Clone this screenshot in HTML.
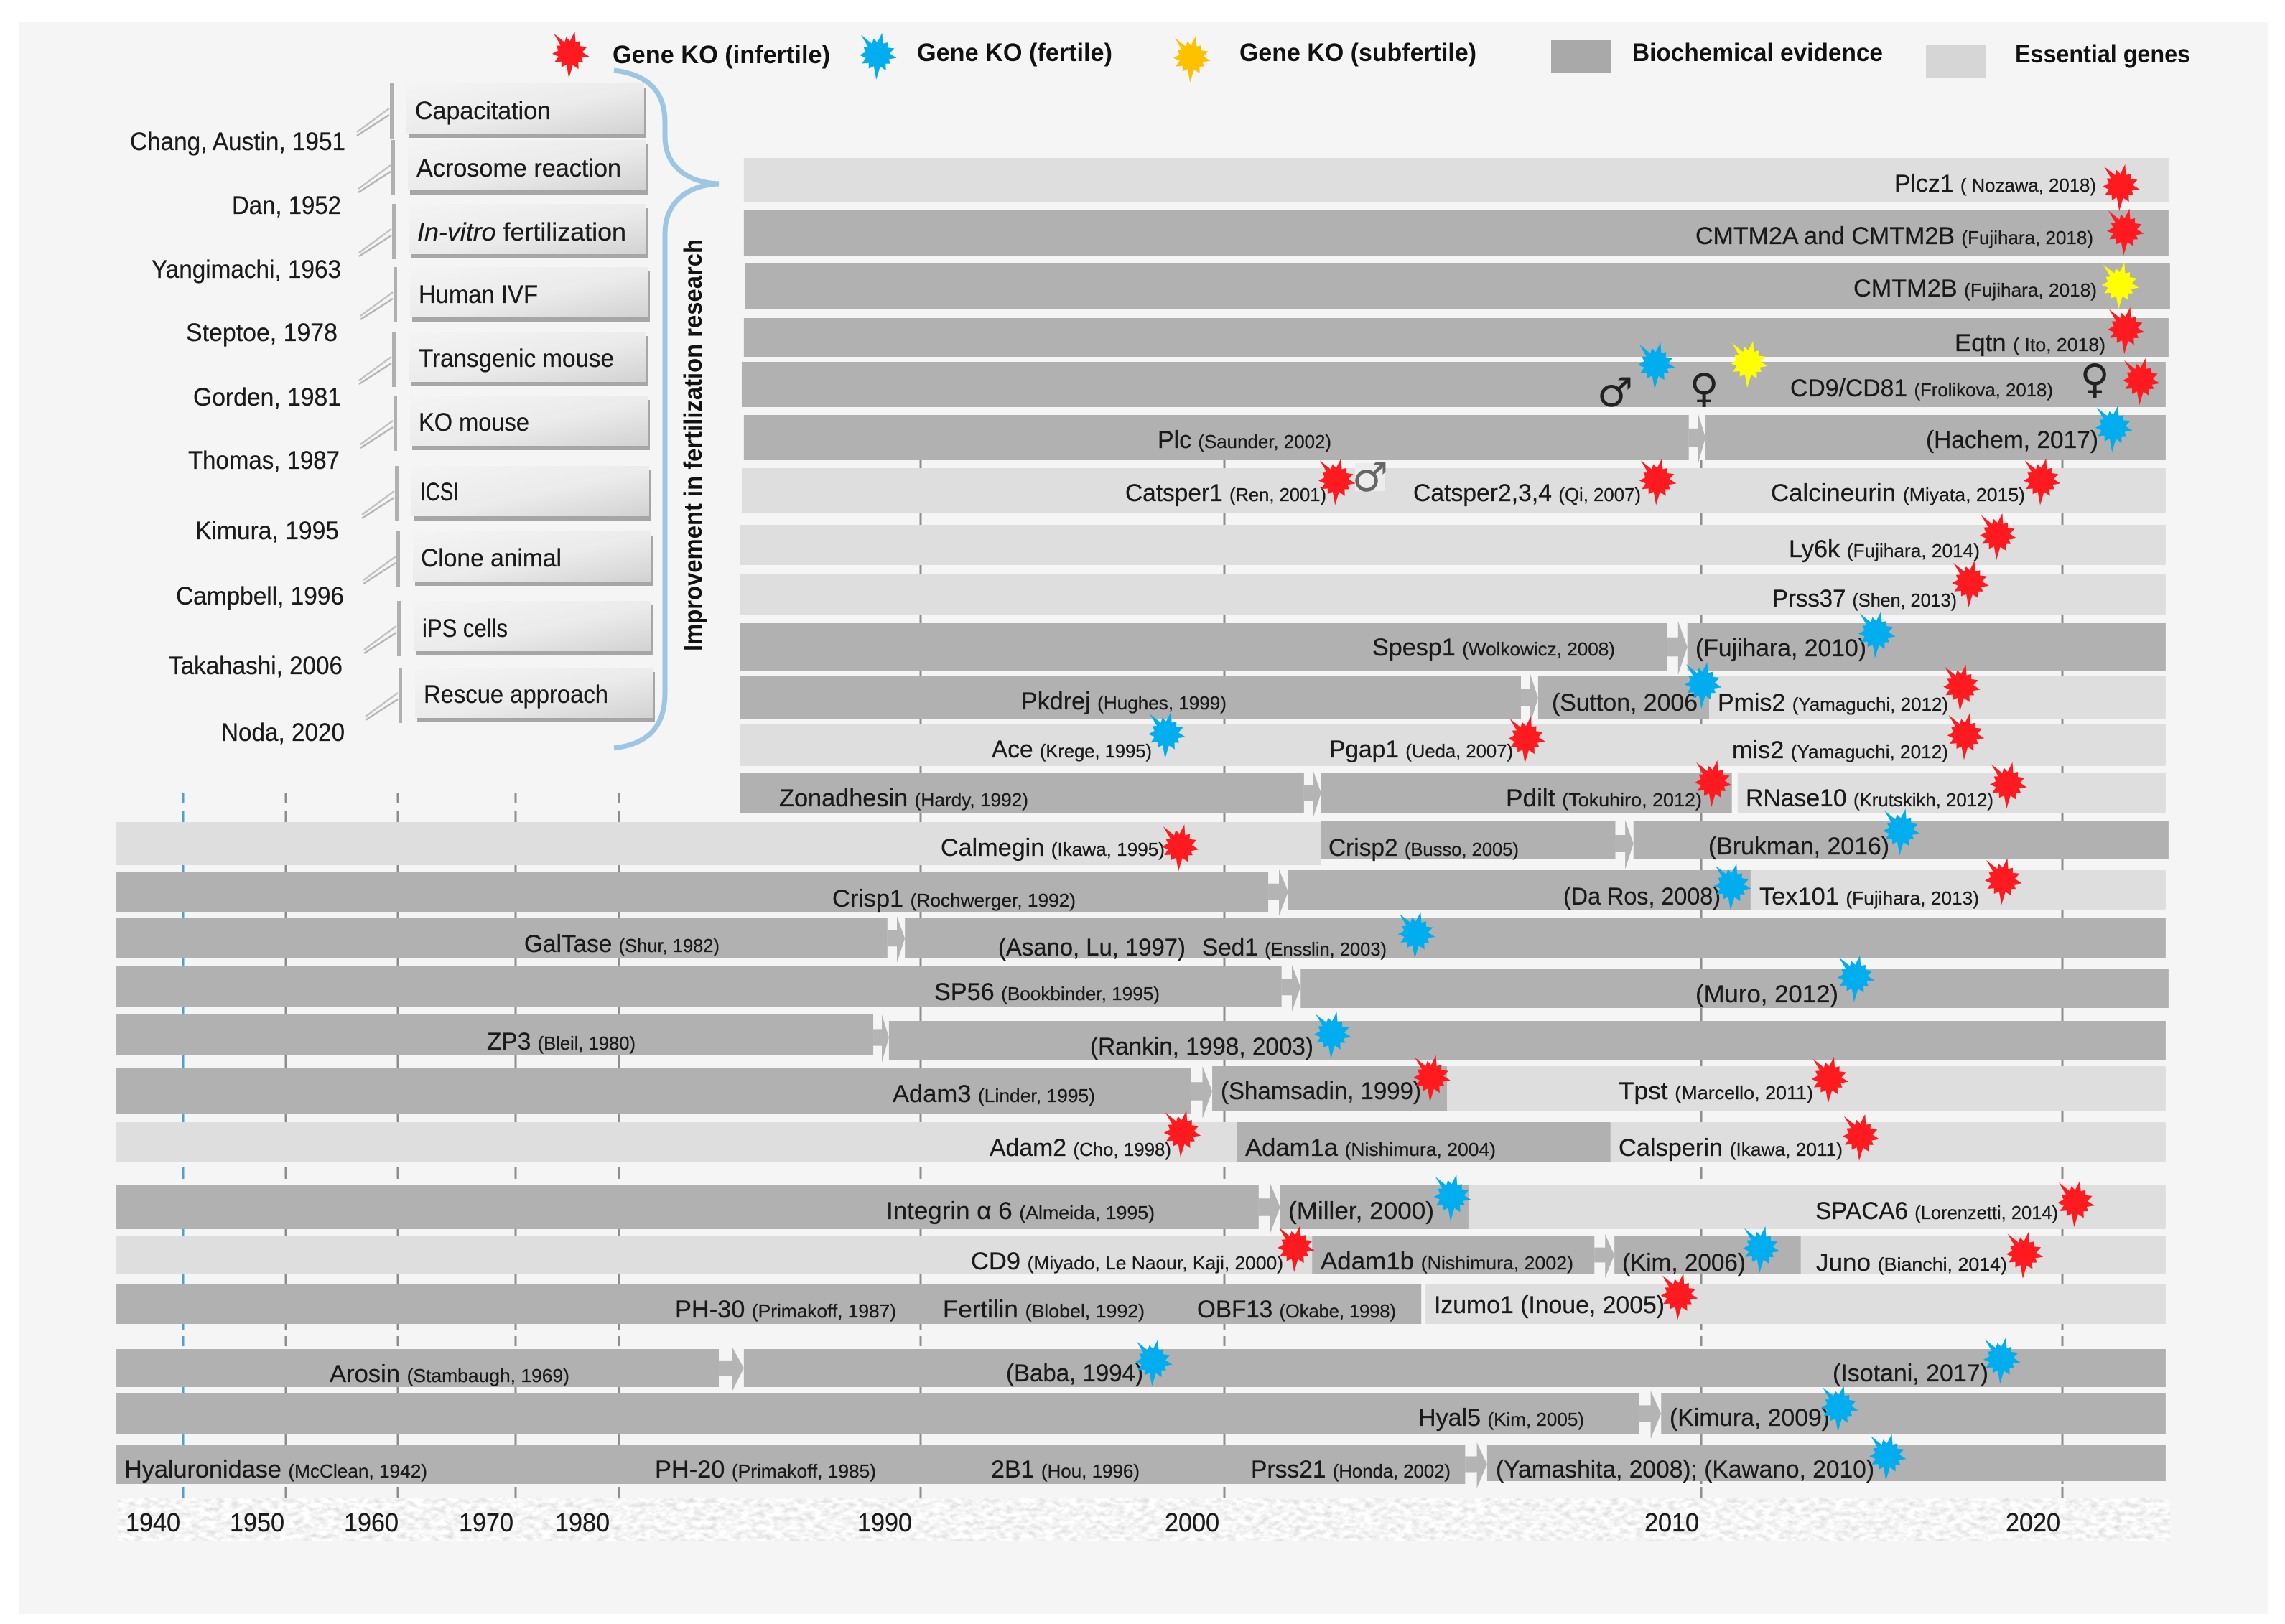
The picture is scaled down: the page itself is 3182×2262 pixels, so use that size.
<!DOCTYPE html>
<html lang="en">
<head>
<meta charset="utf-8">
<title>Timeline of fertilization research and gene evidence</title>
<style>
html,body{margin:0;padding:0;background:#fff;}
svg{display:block;}
text{font-family:"Liberation Sans",Arial,sans-serif;fill:#1a1a1a;stroke:#1a1a1a;stroke-width:.3px;}
.g{font-size:34px;}
.c{font-size:26px;}
.b{font-size:35px;font-weight:bold;fill:#111;stroke:none;}
.m{font-size:35px;}
.t{font-size:36px;}
.s{font-family:"DejaVu Sans","Liberation Sans",sans-serif;font-size:56px;text-anchor:middle;fill:#222;stroke:none;}
</style>
</head>
<body>
<svg xmlns="http://www.w3.org/2000/svg" width="3182" height="2262" viewBox="0 0 3182 2262">
<defs>
<linearGradient id="box-fill" x1="0" y1="0" x2="1" y2="1">
<stop offset="0" stop-color="#f4f4f4"/><stop offset="0.55" stop-color="#ebebeb"/><stop offset="1" stop-color="#d2d2d2"/>
</linearGradient>
<filter id="paper-noise" x="0" y="0" width="100%" height="100%">
<feTurbulence type="fractalNoise" baseFrequency="0.09 0.16" numOctaves="3" seed="7"/>
<feColorMatrix type="matrix" values="0.55 0 0 0 0.64  0.55 0 0 0 0.64  0.55 0 0 0 0.64  0 0 0 0 1"/>
</filter>
<g id="milestone-shape">
<rect x="3" y="6" width="331" height="70" fill="#a6a6a6"/>
<rect x="0" y="0" width="331" height="70" fill="url(#box-fill)"/>
<rect x="-23" y="0" width="5" height="77" fill="#b0b0b0"/>
<line x1="-69" y1="68" x2="-24" y2="35" stroke="#c2c2c2" stroke-width="2.5"/>
<line x1="-69" y1="73" x2="-24" y2="44" stroke="#b5b5b5" stroke-width="2.5"/>
</g>
</defs>

<rect x="26" y="30" width="3132" height="2218" fill="#f5f5f5"/>

<!-- Legend -->
<g>
<text class="b" x="853" y="88" textLength="303" lengthAdjust="spacingAndGlyphs">Gene KO (infertile)</text>
<text class="b" x="1277" y="85" textLength="272" lengthAdjust="spacingAndGlyphs">Gene KO (fertile)</text>
<text class="b" x="1726" y="85" textLength="330" lengthAdjust="spacingAndGlyphs">Gene KO (subfertile)</text>
<rect x="2160" y="56" width="83" height="46" fill="#a9a9a9"/>
<text class="b" x="2273" y="85" textLength="349" lengthAdjust="spacingAndGlyphs">Biochemical evidence</text>
<rect x="2682" y="63" width="83" height="45" fill="#d6d6d6"/>
<text class="b" x="2806" y="87" textLength="244" lengthAdjust="spacingAndGlyphs">Essential genes</text>
</g>

<!-- Milestones panel -->
<g>
<use href="#milestone-shape" x="566" y="116"/>
<use href="#milestone-shape" x="568" y="195"/>
<use href="#milestone-shape" x="569" y="284"/>
<use href="#milestone-shape" x="571" y="372"/>
<use href="#milestone-shape" x="569" y="462"/>
<use href="#milestone-shape" x="571" y="551"/>
<use href="#milestone-shape" x="573" y="649"/>
<use href="#milestone-shape" x="575" y="740"/>
<use href="#milestone-shape" x="576" y="837"/>
<use href="#milestone-shape" x="578" y="930"/>

<text class="m" x="578" y="166" textLength="189" lengthAdjust="spacingAndGlyphs">Capacitation</text>
<text class="m" x="580" y="246" textLength="285" lengthAdjust="spacingAndGlyphs">Acrosome reaction</text>
<text class="m" x="581" y="335" textLength="291" lengthAdjust="spacingAndGlyphs"><tspan font-style="italic">In-vitro</tspan> fertilization</text>
<text class="m" x="583" y="422" textLength="166" lengthAdjust="spacingAndGlyphs">Human IVF</text>
<text class="m" x="583" y="511" textLength="272" lengthAdjust="spacingAndGlyphs">Transgenic mouse</text>
<text class="m" x="583" y="600" textLength="154" lengthAdjust="spacingAndGlyphs">KO mouse</text>
<text class="m" x="585" y="697" textLength="54" lengthAdjust="spacingAndGlyphs">ICSI</text>
<text class="m" x="586" y="789" textLength="196" lengthAdjust="spacingAndGlyphs">Clone animal</text>
<text class="m" x="588" y="887" textLength="119" lengthAdjust="spacingAndGlyphs">iPS cells</text>
<text class="m" x="590" y="979" textLength="257" lengthAdjust="spacingAndGlyphs">Rescue approach</text>

<text class="m" x="181" y="209" textLength="300" lengthAdjust="spacingAndGlyphs">Chang, Austin, 1951</text>
<text class="m" x="323" y="298" textLength="152" lengthAdjust="spacingAndGlyphs">Dan, 1952</text>
<text class="m" x="211" y="387" textLength="264" lengthAdjust="spacingAndGlyphs">Yangimachi, 1963</text>
<text class="m" x="259" y="475" textLength="211" lengthAdjust="spacingAndGlyphs">Steptoe, 1978</text>
<text class="m" x="269" y="565" textLength="206" lengthAdjust="spacingAndGlyphs">Gorden, 1981</text>
<text class="m" x="262" y="653" textLength="211" lengthAdjust="spacingAndGlyphs">Thomas, 1987</text>
<text class="m" x="272" y="751" textLength="200" lengthAdjust="spacingAndGlyphs">Kimura, 1995</text>
<text class="m" x="245" y="842" textLength="234" lengthAdjust="spacingAndGlyphs">Campbell, 1996</text>
<text class="m" x="235" y="939" textLength="242" lengthAdjust="spacingAndGlyphs">Takahashi, 2006</text>
<text class="m" x="308" y="1032" textLength="172" lengthAdjust="spacingAndGlyphs">Noda, 2020</text>

<path d="M855 98 C905 104 926 130 926 170 L926 190 C926 230 955 254 1001 256 C955 258 926 284 926 325 L926 965 C926 1010 905 1036 855 1042" fill="none" stroke="#9cc6e4" stroke-width="7"/>
<text class="b" transform="translate(977 907) rotate(-90)" textLength="574" lengthAdjust="spacingAndGlyphs">Improvement in fertilization research</text>
</g>

<g id="ticks-layer"></g>
<g id="bars-layer"></g>

<rect x="165" y="2086" width="2857" height="60" filter="url(#paper-noise)"/>
<g>
<text class="t" x="175" y="2133" textLength="76" lengthAdjust="spacingAndGlyphs">1940</text>
<text class="t" x="320" y="2133" textLength="76" lengthAdjust="spacingAndGlyphs">1950</text>
<text class="t" x="479" y="2133" textLength="76" lengthAdjust="spacingAndGlyphs">1960</text>
<text class="t" x="639" y="2133" textLength="76" lengthAdjust="spacingAndGlyphs">1970</text>
<text class="t" x="773" y="2133" textLength="76" lengthAdjust="spacingAndGlyphs">1980</text>
<text class="t" x="1194" y="2133" textLength="76" lengthAdjust="spacingAndGlyphs">1990</text>
<text class="t" x="1622" y="2133" textLength="76" lengthAdjust="spacingAndGlyphs">2000</text>
<text class="t" x="2290" y="2133" textLength="76" lengthAdjust="spacingAndGlyphs">2010</text>
<text class="t" x="2793" y="2133" textLength="76" lengthAdjust="spacingAndGlyphs">2020</text>
</g>

<!-- Gene labels -->
<rect x="1887" y="645" width="42" height="39" fill="#ececec"/>
<g>
<text class="g" x="2638" y="267" textLength="281" lengthAdjust="spacingAndGlyphs">Plcz1 <tspan class="c">( Nozawa, 2018)</tspan></text>
<text class="g" x="2361" y="340" textLength="554" lengthAdjust="spacingAndGlyphs">CMTM2A and CMTM2B <tspan class="c">(Fujihara, 2018)</tspan></text>
<text class="g" x="2581" y="413" textLength="339" lengthAdjust="spacingAndGlyphs">CMTM2B <tspan class="c">(Fujihara, 2018)</tspan></text>
<text class="g" x="2722" y="489" textLength="210" lengthAdjust="spacingAndGlyphs">Eqtn <tspan class="c">( Ito, 2018)</tspan></text>
<text class="g" x="2493" y="552" textLength="366" lengthAdjust="spacingAndGlyphs">CD9/CD81 <tspan class="c">(Frolikova, 2018)</tspan></text>
<text class="g" x="2682" y="624" textLength="240" lengthAdjust="spacingAndGlyphs">(Hachem, 2017)</text>
<text class="g" x="1612" y="624" textLength="242" lengthAdjust="spacingAndGlyphs">Plc <tspan class="c">(Saunder, 2002)</tspan></text>
<text class="g" x="1567" y="698" textLength="280" lengthAdjust="spacingAndGlyphs">Catsper1 <tspan class="c">(Ren, 2001)</tspan></text>
<text class="g" x="1968" y="698" textLength="317" lengthAdjust="spacingAndGlyphs">Catsper2,3,4 <tspan class="c">(Qi, 2007)</tspan></text>
<text class="g" x="2466" y="698" textLength="354" lengthAdjust="spacingAndGlyphs">Calcineurin <tspan class="c">(Miyata, 2015)</tspan></text>
<text class="g" x="2491" y="776" textLength="266" lengthAdjust="spacingAndGlyphs">Ly6k <tspan class="c">(Fujihara, 2014)</tspan></text>
<text class="g" x="2468" y="845" textLength="257" lengthAdjust="spacingAndGlyphs">Prss37 <tspan class="c">(Shen, 2013)</tspan></text>
<text class="g" x="1911" y="913" textLength="338" lengthAdjust="spacingAndGlyphs">Spesp1 <tspan class="c">(Wolkowicz, 2008)</tspan></text>
<text class="g" x="2361" y="914" textLength="238" lengthAdjust="spacingAndGlyphs">(Fujihara, 2010)</text>
<text class="g" x="1422" y="988" textLength="286" lengthAdjust="spacingAndGlyphs">Pkdrej <tspan class="c">(Hughes, 1999)</tspan></text>
<text class="g" x="2161" y="990" textLength="203" lengthAdjust="spacingAndGlyphs">(Sutton, 2006</text>
<text class="g" x="2392" y="990" textLength="321" lengthAdjust="spacingAndGlyphs">Pmis2 <tspan class="c">(Yamaguchi, 2012)</tspan></text>
<text class="g" x="1381" y="1055" textLength="223" lengthAdjust="spacingAndGlyphs">Ace <tspan class="c">(Krege, 1995)</tspan></text>
<text class="g" x="1851" y="1055" textLength="256" lengthAdjust="spacingAndGlyphs">Pgap1 <tspan class="c">(Ueda, 2007)</tspan></text>
<text class="g" x="2412" y="1056" textLength="301" lengthAdjust="spacingAndGlyphs">mis2 <tspan class="c">(Yamaguchi, 2012)</tspan></text>
<text class="g" x="1085" y="1123" textLength="347" lengthAdjust="spacingAndGlyphs">Zonadhesin <tspan class="c">(Hardy, 1992)</tspan></text>
<text class="g" x="2097" y="1123" textLength="273" lengthAdjust="spacingAndGlyphs">Pdilt <tspan class="c">(Tokuhiro, 2012)</tspan></text>
<text class="g" x="2431" y="1123" textLength="345" lengthAdjust="spacingAndGlyphs">RNase10 <tspan class="c">(Krutskikh, 2012)</tspan></text>
<text class="g" x="1310" y="1192" textLength="312" lengthAdjust="spacingAndGlyphs">Calmegin <tspan class="c">(Ikawa, 1995)</tspan></text>
<text class="g" x="1850" y="1192" textLength="265" lengthAdjust="spacingAndGlyphs">Crisp2 <tspan class="c">(Busso, 2005)</tspan></text>
<text class="g" x="2379" y="1190" textLength="252" lengthAdjust="spacingAndGlyphs">(Brukman, 2016)</text>
<text class="g" x="1159" y="1263" textLength="339" lengthAdjust="spacingAndGlyphs">Crisp1 <tspan class="c">(Rochwerger, 1992)</tspan></text>
<text class="g" x="2177" y="1260" textLength="219" lengthAdjust="spacingAndGlyphs">(Da Ros, 2008)</text>
<text class="g" x="2450" y="1260" textLength="306" lengthAdjust="spacingAndGlyphs">Tex101 <tspan class="c">(Fujihara, 2013)</tspan></text>
<text class="g" x="730" y="1326" textLength="272" lengthAdjust="spacingAndGlyphs">GalTase <tspan class="c">(Shur, 1982)</tspan></text>
<text class="g" x="1390" y="1331" textLength="261" lengthAdjust="spacingAndGlyphs">(Asano, Lu, 1997)</text>
<text class="g" x="1674" y="1331" textLength="257" lengthAdjust="spacingAndGlyphs">Sed1 <tspan class="c">(Ensslin, 2003)</tspan></text>
<text class="g" x="1301" y="1393" textLength="314" lengthAdjust="spacingAndGlyphs">SP56 <tspan class="c">(Bookbinder, 1995)</tspan></text>
<text class="g" x="2361" y="1396" textLength="199" lengthAdjust="spacingAndGlyphs">(Muro, 2012)</text>
<text class="g" x="678" y="1462" textLength="207" lengthAdjust="spacingAndGlyphs">ZP3 <tspan class="c">(Bleil, 1980)</tspan></text>
<text class="g" x="1518" y="1469" textLength="311" lengthAdjust="spacingAndGlyphs">(Rankin, 1998, 2003)</text>
<text class="g" x="1243" y="1535" textLength="282" lengthAdjust="spacingAndGlyphs">Adam3 <tspan class="c">(Linder, 1995)</tspan></text>
<text class="g" x="1700" y="1531" textLength="279" lengthAdjust="spacingAndGlyphs">(Shamsadin, 1999)</text>
<text class="g" x="2254" y="1531" textLength="271" lengthAdjust="spacingAndGlyphs">Tpst <tspan class="c">(Marcello, 2011)</tspan></text>
<text class="g" x="1378" y="1610" textLength="253" lengthAdjust="spacingAndGlyphs">Adam2 <tspan class="c">(Cho, 1998)</tspan></text>
<text class="g" x="1734" y="1610" textLength="349" lengthAdjust="spacingAndGlyphs">Adam1a <tspan class="c">(Nishimura, 2004)</tspan></text>
<text class="g" x="2254" y="1610" textLength="312" lengthAdjust="spacingAndGlyphs">Calsperin <tspan class="c">(Ikawa, 2011)</tspan></text>
<text class="g" x="1234" y="1698" textLength="374" lengthAdjust="spacingAndGlyphs">Integrin α 6 <tspan class="c">(Almeida, 1995)</tspan></text>
<text class="g" x="1794" y="1698" textLength="203" lengthAdjust="spacingAndGlyphs">(Miller, 2000)</text>
<text class="g" x="2528" y="1698" textLength="338" lengthAdjust="spacingAndGlyphs">SPACA6 <tspan class="c">(Lorenzetti, 2014)</tspan></text>
<text class="g" x="1352" y="1768" textLength="435" lengthAdjust="spacingAndGlyphs">CD9 <tspan class="c">(Miyado, Le Naour, Kaji, 2000)</tspan></text>
<text class="g" x="1839" y="1768" textLength="352" lengthAdjust="spacingAndGlyphs">Adam1b <tspan class="c">(Nishimura, 2002)</tspan></text>
<text class="g" x="2259" y="1770" textLength="172" lengthAdjust="spacingAndGlyphs">(Kim, 2006)</text>
<text class="g" x="2529" y="1770" textLength="266" lengthAdjust="spacingAndGlyphs">Juno <tspan class="c">(Bianchi, 2014)</tspan></text>
<text class="g" x="940" y="1835" textLength="308" lengthAdjust="spacingAndGlyphs">PH-30 <tspan class="c">(Primakoff, 1987)</tspan></text>
<text class="g" x="1313" y="1835" textLength="281" lengthAdjust="spacingAndGlyphs">Fertilin <tspan class="c">(Blobel, 1992)</tspan></text>
<text class="g" x="1667" y="1835" textLength="277" lengthAdjust="spacingAndGlyphs">OBF13 <tspan class="c">(Okabe, 1998)</tspan></text>
<text class="g" x="1997" y="1829" textLength="321" lengthAdjust="spacingAndGlyphs">Izumo1 (Inoue, 2005)</text>
<text class="g" x="459" y="1925" textLength="334" lengthAdjust="spacingAndGlyphs">Arosin <tspan class="c">(Stambaugh, 1969)</tspan></text>
<text class="g" x="1401" y="1924" textLength="191" lengthAdjust="spacingAndGlyphs">(Baba, 1994)</text>
<text class="g" x="2552" y="1924" textLength="217" lengthAdjust="spacingAndGlyphs">(Isotani, 2017)</text>
<text class="g" x="1975" y="1986" textLength="231" lengthAdjust="spacingAndGlyphs">Hyal5 <tspan class="c">(Kim, 2005)</tspan></text>
<text class="g" x="2325" y="1986" textLength="223" lengthAdjust="spacingAndGlyphs">(Kimura, 2009)</text>
<text class="g" x="173" y="2058" textLength="422" lengthAdjust="spacingAndGlyphs">Hyaluronidase <tspan class="c">(McClean, 1942)</tspan></text>
<text class="g" x="912" y="2058" textLength="308" lengthAdjust="spacingAndGlyphs">PH-20 <tspan class="c">(Primakoff, 1985)</tspan></text>
<text class="g" x="1380" y="2058" textLength="207" lengthAdjust="spacingAndGlyphs">2B1 <tspan class="c">(Hou, 1996)</tspan></text>
<text class="g" x="1742" y="2058" textLength="278" lengthAdjust="spacingAndGlyphs">Prss21 <tspan class="c">(Honda, 2002)</tspan></text>
<text class="g" x="2083" y="2058" textLength="527" lengthAdjust="spacingAndGlyphs">(Yamashita, 2008); (Kawano, 2010)</text>

<text class="s" x="1908" y="684" style="fill:#666">♂</text>
<text class="s" x="2249" y="566">♂</text>
<text class="s" x="2373" y="560">♀</text>
<text class="s" x="2917" y="547">♀</text>
</g>

<g id="markers-layer"></g>
<g id="legend-stars"></g>
</svg>

<script>
// ---- Chart data (years) ----
const categories = ['Plcz1','CMTM2A/B','CMTM2B','Eqtn','CD9/CD81','Plc','Catsper','Ly6k','Prss37','Spesp1','Pkdrej','Ace/Pgap1','Zonadhesin','Calmegin','Crisp1','GalTase','SP56','ZP3','Adam3','Adam2','Integrin','CD9','PH-30','Arosin','Hyal5','Hyaluronidase'];
const tickYears = [1940,1950,1960,1970,1980,1990,2000,2010,2020];

const segRow  = [0,1,2,3,4,5,5,6,7,8,9,9,10,10,10,11,12,12,12,13,13,13,14,14,14,15,15,16,16,17,17,18,18,18,19,19,19,20,20,20,21,21,21,21,22,22,23,23,24,24,25,25];
const segFrom = [1984.14,1984.14,1984.19,1984.14,1984.07,1984.14,2010.12,1984.07,1984.02,1984.02,1984.02,2009.71,1984.02,2006.58,2010.22,1984.02,1984.02,2002.03,2011.01,1933.5,2002.02,2008.58,1933.5,2001.34,2011.37,1933.5,1989.48,1933.5,2001.6,1933.5,1988.95,1933.5,1999.6,2004.67,1933.5,2000.27,2008.1,1933.5,2001.17,2005.12,1933.5,2001.84,2008.18,2012.76,1933.5,2004.22,1933.5,1984.14,1933.5,2009.16,1933.5,2005.51];
const segTo   = [2022.94,2022.94,2022.98,2022.94,2022.86,2009.74,2022.86,2022.86,2022.86,2022.86,2009.29,2022.86,2006.22,2010.22,2022.86,2022.86,2001.67,2010.85,2022.86,2002.02,2008.2,2022.94,2000.92,2011.37,2022.86,1988.9,2022.86,2001.2,2022.94,1988.43,2022.86,1998.91,2004.67,2022.86,2000.27,2008.1,2022.86,2000.72,2005.12,2022.86,2001.84,2007.76,2012.76,2022.86,2004.13,2022.86,1983.31,2022.86,2008.69,2022.86,2005.05,2022.86];
const segKind = ['E','B','B','B','B','B','B','E','E','E','B','B','B','B','E','E','B','B','E','E','B','B','B','B','E','B','B','B','B','B','B','B','B','E','E','B','E','B','B','E','E','B','B','E','B','E','B','B','B','B','B','B'];

const arrowRow  = [5,9,10,12,13,14,15,16,17,18,20,21,23,24,25];
const arrowFrom = [2009.74,2009.29,2006.22,2001.67,2008.2,2000.92,1988.9,2001.2,1988.43,1998.91,2000.72,2007.76,1983.31,2008.69,2005.05];
const arrowTo   = [2010.12,2009.71,2006.58,2002.03,2008.58,2001.34,1989.48,2001.6,1988.95,1999.6,2001.17,2008.18,1984.14,2009.16,2005.51];

const markerRow  = [0.63,1.45,2.46,3.28,4.05,4.02,4.40,5.27,6.27,6.27,6.27,7.25,8.20,9.21,10.175,10.23,11.25,11.33,11.22,12.22,12.27,13.19,13.56,14.34,14.205,15.38,16.245,17.41,18.19,18.22,19.25,19.34,20.25,20.385,21.29,21.31,21.46,22.27,23.32,23.26,24.34,25.28];
const markerYear = [2021.61,2021.73,2021.59,2021.75,2009.05,2011.31,2022.17,2021.41,2002.35,2009.08,2019.42,2018.21,2017.44,2014.85,2010.04,2017.2,2017.31,2006.33,1998.09,2010.32,2018.49,2015.53,1998.53,2010.85,2018.35,2004.02,2014.27,2002.26,2004.34,2013.55,1998.6,2014.41,2004.77,2020.36,2001.49,2011.65,2018.94,2009.53,1997.66,2018.31,2013.82,2015.15];
const markerType = ['infertile','infertile','subfertile','infertile','fertile','subfertile','infertile','fertile','infertile','infertile','infertile','infertile','infertile','fertile','fertile','infertile','infertile','infertile','fertile','infertile','infertile','fertile','infertile','fertile','infertile','fertile','fertile','fertile','infertile','infertile','infertile','infertile','fertile','infertile','infertile','fertile','infertile','infertile','fertile','fertile','fertile','fertile'];

// ---- Axis functions ----
function xScale(year) {
  const ys = [1940,1950,1960,1970,1980,1990,2000,2010,2020];
  const ps = [255,398,554,718,862,1282,1705,2369,2872];
  let i = 0;
  while (i < ys.length - 2 && year > ys[i + 1]) i++;
  return ps[i] + (year - ys[i]) * (ps[i + 1] - ps[i]) / (ys[i + 1] - ys[i]);
}
function yScale(row) {
  const tops = [220,292,367,443,504,578,652,731,800,868,942,1009,1077,1145,1214,1279,1347,1416,1488,1563,1651,1722,1789,1879,1940,2012];
  const bots = [282,356,430,497,567,641,714,787,856,934,1002,1067,1132,1205,1270,1335,1403,1474,1552,1619,1712,1774,1844,1932,1998,2067];
  const i = Math.floor(row);
  return tops[i] + (row - i) * (bots[i] - tops[i]);
}
// A few bar pieces in the figure sit slightly off their row band.
function segBand(row, from, kind) {
  let top = yScale(row);
  let bot = yScale(row + 0.9999);
  if (row === 13 && from > 2000) { top = 1144; bot = 1197; }
  if (row === 14 && from > 2000) { top = 1212; bot = 1267; }
  if (row === 16 && from < 2000) { top = 1345; bot = 1403; }
  if (row === 16 && from > 2000) { top = 1349; bot = 1404; }
  if (row === 17 && from < 1988) { top = 1413; bot = 1470; }
  if (row === 17 && from > 1988) { top = 1422; bot = 1476; }
  if (row === 18 && from > 1999) { top = 1485; bot = 1547; }
  if (row === 25 && from > 2005.2) { top = 2012; bot = 2063; }
  return [top, bot];
}

const SVGNS = 'http://www.w3.org/2000/svg';
const ticksLayer = document.getElementById('ticks-layer');
const barsLayer = document.getElementById('bars-layer');
const markersLayer = document.getElementById('markers-layer');
const legendStars = document.getElementById('legend-stars');

// ---- Ticks ----
tickYears.forEach(function (yr) {
  const first = yr <= 1980 ? 1104 : 641;
  const spans = [[first,1118],[1129,1619],[1625,1642],[1651,1852],[1861,1875],[1879,2067],[2071,2086]];
  spans.forEach(function (sp) {
    const ln = document.createElementNS(SVGNS, 'line');
    
    
    ln.setAttribute('x1', xScale(yr));
    ln.setAttribute('x2', xScale(yr));
    ln.setAttribute('y1', sp[0]);
    ln.setAttribute('y2', sp[1]);
    ln.setAttribute('stroke', yr === 1940 ? '#4f9fcf' : '#8e8e8e');
    ln.setAttribute('stroke-width', '3');
    ticksLayer.appendChild(ln);
  });
});

// ---- Bars ----
const kindFill = { B: '#b1b1b1', E: '#dedede' };
segRow.forEach(function (row, k) {
  const r = document.createElementNS(SVGNS, 'rect');
  
  
  const x0 = xScale(segFrom[k]);
  const x1 = xScale(segTo[k]);
  const band = segBand(row, segFrom[k], segKind[k]);
  r.setAttribute('x', x0);
  r.setAttribute('width', x1 - x0);
  r.setAttribute('y', band[0]);
  r.setAttribute('height', band[1] - band[0]);
  r.setAttribute('fill', kindFill[segKind[k]]);
  barsLayer.appendChild(r);
});

// ---- Arrows joining bar segments ----
arrowRow.forEach(function (row, k) {
  const x0 = xScale(arrowFrom[k]);
  const x1 = xScale(arrowTo[k]);
  const xm = (x0 + x1) / 2 + 1;
  const top = yScale(row);
  const bot = yScale(row + 0.9999);
  const mid = (top + bot) / 2;
  const half = (bot - top) * 0.2;
  const p = document.createElementNS(SVGNS, 'polygon');
  
  
  p.setAttribute('points', [
    [x0, mid - half], [xm, mid - half], [xm, top - 3], [x1, mid],
    [xm, bot + 6], [xm, mid + half], [x0, mid + half]
  ].map(function (q) { return q.join(','); }).join(' '));
  p.setAttribute('fill', '#b4b4b4');
  barsLayer.appendChild(p);
});

// ---- Star markers ----
function starPoints(cx, cy) {
  const tips = [[-130,36],[-104,23],[-78,31],[-50,22],[-20,25],[10,27],[35,22],[62,25],[93,35],[122,23],[150,25],[178,25],[208,22]];
  const inner = 17;
  const pts = [];
  for (let i = 0; i < tips.length; i++) {
    const a = tips[i][0] * Math.PI / 180;
    pts.push((cx + tips[i][1] * Math.cos(a)).toFixed(1) + ',' + (cy + tips[i][1] * Math.sin(a)).toFixed(1));
    const nextDeg = i + 1 < tips.length ? tips[i + 1][0] : tips[0][0] + 360;
    const b = (tips[i][0] + nextDeg) / 2 * Math.PI / 180;
    pts.push((cx + inner * Math.cos(b)).toFixed(1) + ',' + (cy + inner * Math.sin(b)).toFixed(1));
  }
  return pts.join(' ');
}
const typeFill = { infertile: '#ff1a1f', fertile: '#00adef', subfertile: '#ffff00' };
markerYear.forEach(function (yr, k) {
  const star = document.createElementNS(SVGNS, 'polygon');
  
  
  star.setAttribute('points', starPoints(xScale(yr), yScale(markerRow[k])));
  star.setAttribute('fill', typeFill[markerType[k]]);
  markersLayer.appendChild(star);
});

// ---- Legend stars ----
const redKey = document.createElementNS(SVGNS, 'polygon');


redKey.setAttribute('points', starPoints(794, 74));
redKey.setAttribute('fill', '#ff1a1f');
legendStars.appendChild(redKey);
const blueKey = document.createElementNS(SVGNS, 'polygon');


blueKey.setAttribute('points', starPoints(1222, 76));
blueKey.setAttribute('fill', '#00adef');
legendStars.appendChild(blueKey);
const amberKey = document.createElementNS(SVGNS, 'polygon');


amberKey.setAttribute('points', starPoints(1659, 80));
amberKey.setAttribute('fill', '#ffc000');
legendStars.appendChild(amberKey);
</script>
</body>
</html>
